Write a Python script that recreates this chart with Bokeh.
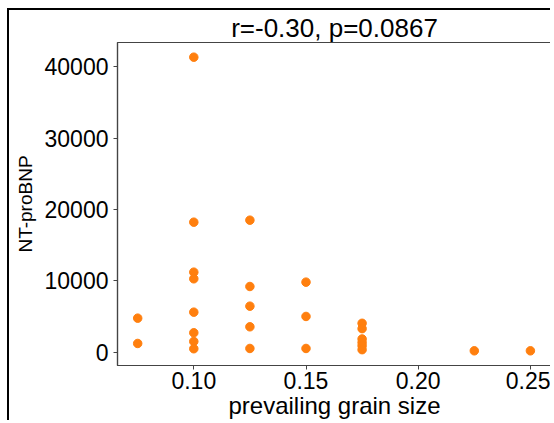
from bokeh.plotting import figure
from bokeh.models import FixedTicker, PrintfTickFormatter, Range1d
from bokeh.embed import file_html
from bokeh.resources import INLINE

# data
grain_size = [0.075, 0.075,
              0.10, 0.10, 0.10, 0.10, 0.10, 0.10, 0.10, 0.10,
              0.125, 0.125, 0.125, 0.125, 0.125,
              0.15, 0.15, 0.15,
              0.175, 0.175, 0.175, 0.175, 0.175, 0.175,
              0.225, 0.25]
nt_probnp = [4770, 1220,
             41370, 18230, 11220, 10290, 5610, 2720, 1500, 480,
             18510, 9210, 6450, 3560, 520,
             9820, 5010, 520,
             4050, 3300, 1850, 1350, 900, 350,
             190, 190]
x_ticks = [0.10, 0.15, 0.20, 0.25]
y_ticks = [0, 10000, 20000, 30000, 40000]
title_text = "r=-0.30, p=0.0867"
x_label = "prevailing grain size"
y_label = "NT-proBNP"

FONT = "Liberation Sans"
FRAME = "#444444"

p = figure(width=543, height=412, output_backend="svg", toolbar_location=None,
           x_range=Range1d(0.066, 0.2594), y_range=Range1d(-1870, 43430),
           min_border_left=108, min_border_right=1, min_border_top=31, min_border_bottom=57,
           title=title_text)
p.styles = {"border-left": "2px solid black", "border-top": "2px solid black",
            "margin-left": "7px", "margin-top": "8px"}

p.title.text_font = FONT
p.title.text_font_size = "26px"
p.title.text_font_style = "normal"
p.title.align = "center"
p.title.text_color = "black"
p.title.standoff = 0

p.scatter(grain_size, nt_probnp, size=8.5, color="#ff7f0e", line_color="#ff7f0e")

p.grid.visible = False
p.outline_line_color = FRAME
p.outline_line_width = 1.2

for ax in (p.xaxis[0], p.yaxis[0]):
    ax.axis_line_color = FRAME
    ax.axis_line_width = 1.2
    ax.major_tick_line_color = FRAME
    ax.major_tick_in = 0
    ax.major_tick_out = 4
    ax.minor_tick_line_color = None
    ax.major_label_text_font = FONT
    ax.major_label_text_font_size = "23px"
    ax.major_label_text_color = "black"
    ax.axis_label_text_font = FONT
    ax.axis_label_text_font_style = "normal"
    ax.axis_label_text_color = "black"

p.xaxis.ticker = FixedTicker(ticks=x_ticks)
p.yaxis.ticker = FixedTicker(ticks=y_ticks)
p.xaxis.formatter = PrintfTickFormatter(format="%.2f")
p.yaxis.formatter = PrintfTickFormatter(format="%d")
p.xaxis.axis_label = x_label
p.yaxis.axis_label = y_label
p.xaxis.axis_label_text_font_size = "24px"
p.yaxis.axis_label_text_font_size = "19px"
p.xaxis.major_label_standoff = 2
p.yaxis.major_label_standoff = 5
p.xaxis.axis_label_standoff = 0
p.yaxis.axis_label_standoff = 6

open("out.html", "w").write(file_html(p, INLINE))
